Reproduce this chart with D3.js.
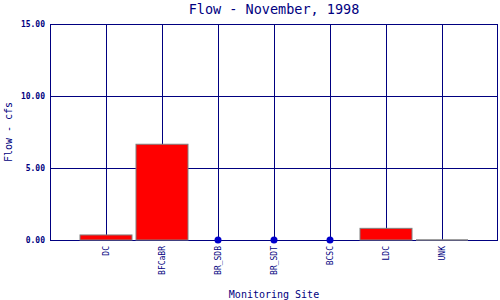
<!doctype html>
<html lang="en">
  <head>
    <meta charset="UTF-8" />
    <title>Flow - November, 1998</title>
    <script src="https://d3js.org/d3.v7.min.js"></script>
    <style>
      body {
        margin: 0;
        background: #fff;
      }
      text {
        font-family: 'DejaVu Sans Mono', 'Liberation Mono', monospace;
        fill: #000080;
      }
      .grid line {
        stroke: #000080;
        stroke-width: 1;
        shape-rendering: crispEdges;
      }
    </style>
  </head>
  <body>
    <div id="chart"></div>
    <script>
      // Data
      const sites = ['DC', 'BFCaBR', 'BR_SDB', 'BR_SDT', 'BCSC', 'LDC', 'UNK'];
      const flows = [0.35, 6.65, null, null, null, 0.81, 0];
      const yTicks = [0, 5, 10, 15];

      const W = 500;
      const H = 300;
      const margin = { top: 24, right: 2, bottom: 60, left: 50 };
      const width = W - margin.left - margin.right;
      const height = H - margin.top - margin.bottom;

      const svg = d3
        .select('#chart')
        .append('svg')
        .attr('width', W)
        .attr('height', H);

      const g = svg
        .append('g')
        .attr('transform', 'translate(' + margin.left + ',' + margin.top + ')');

      // categories sit on gridlines, one empty step on each side
      const x = d3
        .scalePoint()
        .domain(sites)
        .range([0, width])
        .padding(1);
      const step = x.step();
      const barW = step - 4;

      const y = d3.scaleLinear().domain([0, 15]).range([height, 0]);

      // grid
      const grid = g.append('g').attr('class', 'grid');
      grid
        .selectAll('.hline')
        .data(yTicks)
        .enter()
        .append('line')
        .attr('x1', 0)
        .attr('x2', width)
        .attr('y1', (d) => Math.round(y(d)) + 0.5)
        .attr('y2', (d) => Math.round(y(d)) + 0.5);
      grid
        .selectAll('.vline')
        .data(sites)
        .enter()
        .append('line')
        .attr('x1', (d) => Math.round(x(d)) + 0.5)
        .attr('x2', (d) => Math.round(x(d)) + 0.5)
        .attr('y1', 0)
        .attr('y2', height);
      grid
        .append('line')
        .attr('x1', 0.5)
        .attr('x2', 0.5)
        .attr('y1', 0)
        .attr('y2', height);
      grid
        .append('line')
        .attr('x1', width - 0.5)
        .attr('x2', width - 0.5)
        .attr('y1', 0)
        .attr('y2', height);

      const data = sites.map((s, i) => ({ site: s, v: flows[i] }));

      // bars
      g.selectAll('.bar')
        .data(data.filter((d) => d.v !== null && d.v > 0))
        .enter()
        .append('rect')
        .attr('class', 'bar')
        .attr('x', (d) => x(d.site) - barW / 2)
        .attr('y', (d) => y(d.v))
        .attr('width', barW)
        .attr('height', (d) => height - y(d.v))
        .attr('fill', '#ff0000')
        .attr('stroke', '#808080')
        .attr('stroke-width', 1);

      // zero-height bars only show their outline
      g.selectAll('.zero')
        .data(data.filter((d) => d.v === 0))
        .enter()
        .append('line')
        .attr('class', 'zero')
        .attr('x1', (d) => x(d.site) - barW / 2)
        .attr('x2', (d) => x(d.site) + barW / 2)
        .attr('y1', y(0))
        .attr('y2', y(0))
        .attr('stroke', '#808080')
        .attr('stroke-width', 1.5);

      // missing values drawn as dots on the baseline
      g.selectAll('.dot')
        .data(data.filter((d) => d.v === null))
        .enter()
        .append('circle')
        .attr('cx', (d) => x(d.site))
        .attr('cy', y(0))
        .attr('r', 3.5)
        .attr('fill', '#0000cc');

      // y tick labels
      g.selectAll('.ylab')
        .data(yTicks)
        .enter()
        .append('text')
        .attr('x', -5)
        .attr('y', (d) => y(d) + 3)
        .attr('text-anchor', 'end')
        .style('font-size', '8px')
        .style('font-weight', 'bold')
        .text((d) => d3.format('.2f')(d));

      // x tick labels, rotated
      g.selectAll('.xlab')
        .data(sites)
        .enter()
        .append('text')
        .attr(
          'transform',
          (d) => 'translate(' + (x(d) + 3) + ',' + (height + 6) + ') rotate(-90)'
        )
        .attr('text-anchor', 'end')
        .style('font-size', '8px')
        .text((d) => d);

      // title
      svg
        .append('text')
        .attr('x', margin.left + width / 2)
        .attr('y', 14)
        .attr('text-anchor', 'middle')
        .style('font-size', '13.5px')
        .text('Flow - November, 1998');

      // axis titles
      svg
        .append('text')
        .attr('x', margin.left + width / 2)
        .attr('y', 298)
        .attr('text-anchor', 'middle')
        .style('font-size', '10px')
        .text('Monitoring Site');

      svg
        .append('text')
        .attr('transform', 'translate(12,' + (margin.top + height / 2) + ') rotate(-90)')
        .attr('text-anchor', 'middle')
        .style('font-size', '10px')
        .text('Flow - cfs');
    </script>
  </body>
</html>
